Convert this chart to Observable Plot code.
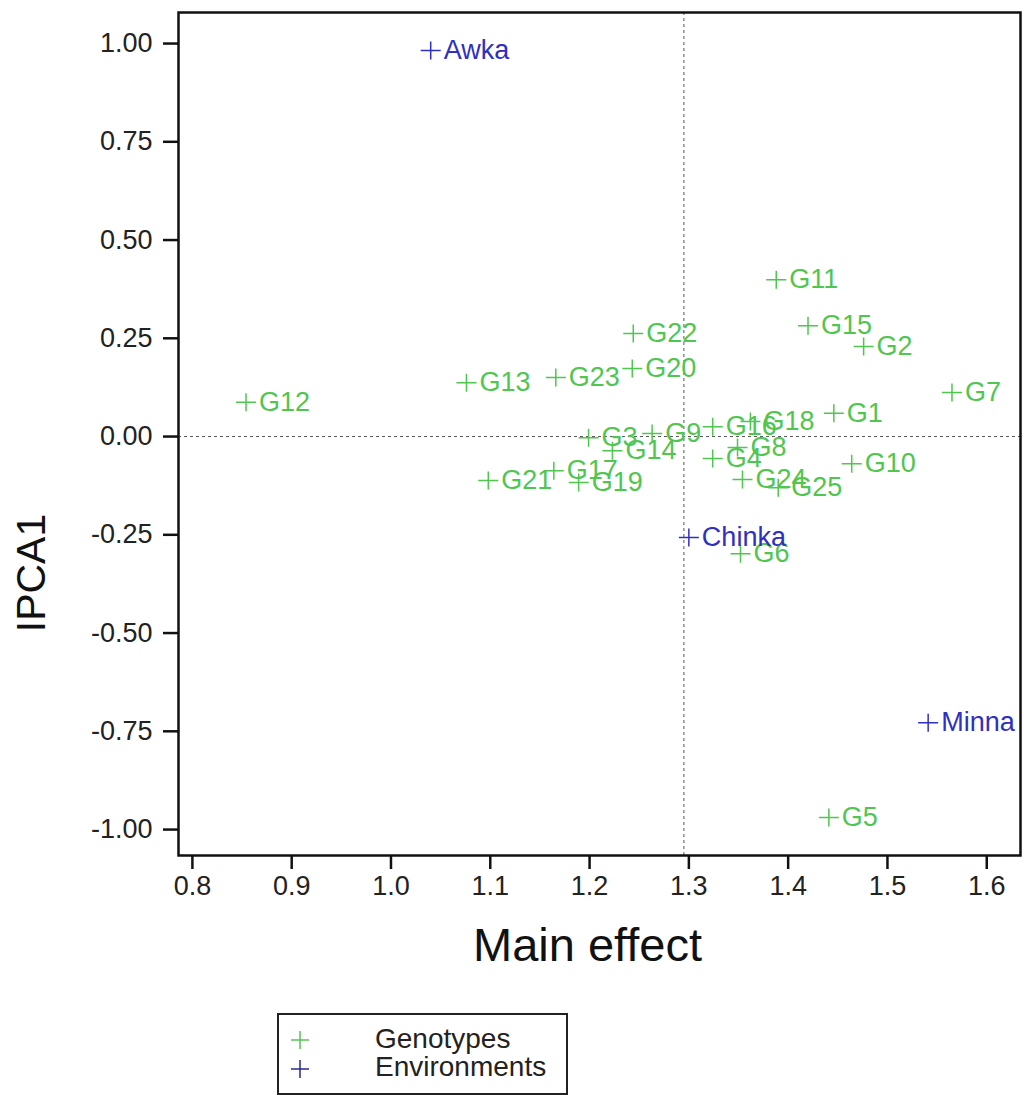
<!DOCTYPE html>
<html><head><meta charset="utf-8">
<script src="https://cdn.jsdelivr.net/npm/d3@7"></script>
<script src="https://cdn.jsdelivr.net/npm/@observablehq/plot@0.6"></script>
<style>
body{margin:0;background:#fff;font-family:"Liberation Sans",Arial,sans-serif;}
#legend{position:relative;margin-left:277px;margin-top:13px;width:291px;height:82px;box-sizing:border-box;border:2px solid #222;}
#legend .t{position:absolute;left:96px;font-size:28px;line-height:28px;color:#222;white-space:nowrap;}
#legend svg{position:absolute;left:0;top:0;}
</style>
</head><body>
<div id="chart"></div>
<div id="legend">
  <svg width="60" height="78">
    <path d="M12,25H30M21,16V34" stroke="#55c455" stroke-width="1.5" fill="none"/>
    <path d="M12,54H30M21,45V63" stroke="#2a2a90" stroke-width="1.5" fill="none"/>
  </svg>
  <div class="t" style="top:10px">Genotypes</div>
  <div class="t" style="top:38px">Environments</div>
</div>
<script>
const genotypes = ["G1","G2","G3","G4","G5","G6","G7","G8","G9","G10","G11","G12","G13","G14","G15","G16","G17","G18","G19","G20","G21","G22","G23","G24","G25"];
const genoX = [1.446,1.476,1.199,1.324,1.441,1.352,1.565,1.349,1.263,1.464,1.388,0.854,1.076,1.223,1.420,1.324,1.164,1.362,1.189,1.243,1.098,1.244,1.166,1.354,1.390];
const genoY = [0.059,0.229,-0.003,-0.056,-0.969,-0.298,0.112,-0.028,0.008,-0.069,0.399,0.087,0.137,-0.036,0.282,0.025,-0.087,0.038,-0.117,0.173,-0.112,0.262,0.150,-0.109,-0.130];

const environments = ["Awka","Chinka","Minna"];
const envX = [1.040,1.300,1.541];
const envY = [0.982,-0.257,-0.728];

const xTicks = [0.8,0.9,1.0,1.1,1.2,1.3,1.4,1.5,1.6];
const yTicks = [-1.00,-0.75,-0.50,-0.25,0.00,0.25,0.50,0.75,1.00];
const meanX = 1.295;
const meanY = 0;

const green = "#4fc64f";
const blue = "#3030c0";

const geno = genotypes.map((name,i)=>({name,x:genoX[i],y:genoY[i]}));
const env = environments.map((name,i)=>({name,x:envX[i],y:envY[i]}));

const thinPlus = {
  draw(ctx, size){
    const r = Math.sqrt(size/Math.PI);
    ctx.moveTo(-r,0); ctx.lineTo(r,0);
    ctx.moveTo(0,-r*0.9); ctx.lineTo(0,r*0.9);
  }
};

const chart = Plot.plot({
  width:1024,
  height:1000,
  marginLeft:178,
  marginRight:4,
  marginTop:12,
  marginBottom:145,
  style:{fontFamily:"Liberation Sans, Arial, sans-serif",background:"#fff"},
  x:{domain:[0.786,1.634]},
  y:{domain:[-1.066,1.079]},
  marks:[
    Plot.ruleX([meanX],{stroke:"#555",strokeDasharray:"3,3",strokeWidth:1}),
    Plot.ruleY([meanY],{stroke:"#555",strokeDasharray:"3,3",strokeWidth:1}),
    Plot.axisY({ticks:yTicks,tickFormat:d=>d.toFixed(2),tickSize:15,tickPadding:11,fontSize:27,stroke:"#111",strokeWidth:2.5,fill:"#222",label:null}),
    Plot.axisX({ticks:xTicks,tickFormat:d=>d.toFixed(1),tickSize:14,tickPadding:6,fontSize:27,stroke:"#111",strokeWidth:2.5,fill:"#222",label:null}),
    Plot.frame({stroke:"#111",strokeWidth:2.5}),
    Plot.dot(geno,{x:"x",y:"y",symbol:thinPlus,r:10,stroke:green,strokeWidth:1.5,fill:"none"}),
    Plot.text(geno,{x:"x",y:"y",text:"name",textAnchor:"start",dx:13,fill:green,fontSize:27}),
    Plot.dot(env,{x:"x",y:"y",symbol:thinPlus,r:10,stroke:blue,strokeWidth:1.5,fill:"none"}),
    Plot.text(env,{x:"x",y:"y",text:"name",textAnchor:"start",dx:13,fill:blue,fontSize:27}),
    Plot.text(["Main effect"],{frameAnchor:"bottom",text:d=>d,textAnchor:"middle",lineAnchor:"middle",dy:90,dx:-12,fontSize:47,fill:"#111"}),
    Plot.text(["IPCA1"],{frameAnchor:"left",text:d=>d,textAnchor:"middle",lineAnchor:"middle",rotate:-90,dx:-147,dy:139,fontSize:41,fill:"#111"})
  ]
});
document.getElementById("chart").appendChild(chart);
</script>
</body></html>
